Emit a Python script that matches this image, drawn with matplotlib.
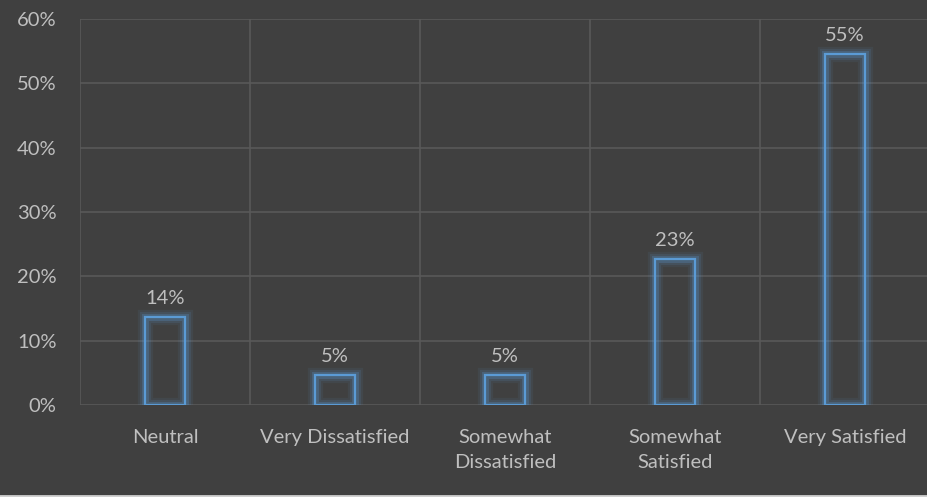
import matplotlib.pyplot as plt
import matplotlib.patheffects as pe
from matplotlib.ticker import FixedLocator, PercentFormatter

categories = ["Neutral", "Very Dissatisfied", "Somewhat\nDissatisfied",
              "Somewhat\nSatisfied", "Very Satisfied"]
shares = [0.137, 0.047, 0.047, 0.227, 0.546]
bar_labels = ["14%", "5%", "5%", "23%", "55%"]

bg = "#404040"
grid_col = "#595959"
text_col = "#BFBFBF"
bar_col = "#5B9BD5"

plt.rcParams["font.family"] = ["Lato", "DejaVu Sans"]

fig = plt.figure(figsize=(9.27, 4.97), dpi=100, facecolor=bg)
ax = fig.add_axes([80 / 927, 1 - 405 / 497, 850 / 927, 386 / 497], facecolor=bg)

x = list(range(len(categories)))
glow = [pe.Stroke(linewidth=11, foreground=bar_col, alpha=0.08),
        pe.Stroke(linewidth=8, foreground=bar_col, alpha=0.13),
        pe.Stroke(linewidth=5, foreground=bar_col, alpha=0.25),
        pe.Normal()]
bars = ax.bar(x, shares, width=0.24, facecolor="none", edgecolor=bar_col,
              linewidth=1.6, zorder=3)
for b in bars:
    b.set_path_effects(glow)

for xi, v, lab in zip(x, shares, bar_labels):
    ax.annotate(lab, (xi, v), xytext=(0, 7), textcoords="offset points",
                ha="center", va="bottom", color=text_col, fontsize=14.5)

ax.set_xlim(-0.5, len(categories) - 0.5)
ax.set_ylim(0, 0.6)
ax.yaxis.set_major_locator(FixedLocator([i / 10 for i in range(7)]))
ax.yaxis.set_major_formatter(PercentFormatter(1.0, decimals=0))
ax.set_xticks(x)
ax.set_xticklabels(categories)
ax.xaxis.set_minor_locator(FixedLocator([i - 0.5 for i in range(len(categories) + 1)]))

ax.grid(axis="y", which="major", color=grid_col, linewidth=1.2, zorder=0)
ax.grid(axis="x", which="minor", color=grid_col, linewidth=1.2, zorder=0)
ax.tick_params(axis="both", which="both", length=0, colors=text_col, labelsize=14.5)
ax.tick_params(axis="y", pad=17)
ax.tick_params(axis="x", pad=17)
for lbl in ax.get_xticklabels():
    lbl.set_linespacing(1.6)
for s in ax.spines.values():
    s.set_visible(False)

# thin light strip along the bottom edge
fig.add_artist(plt.Line2D([0, 1], [0.003, 0.003], color="#D0D0D0", linewidth=2,
                          transform=fig.transFigure))

fig.savefig("out.png", facecolor=bg)
